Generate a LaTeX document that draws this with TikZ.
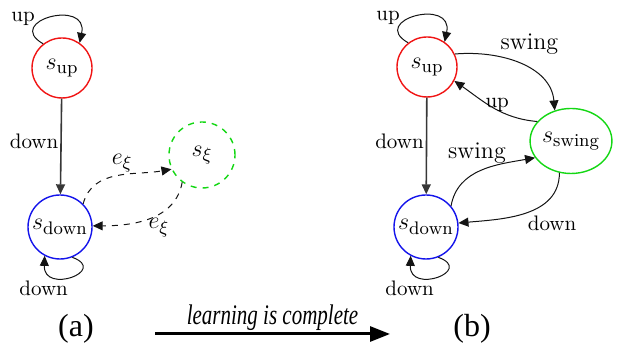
\documentclass[tikz,border=0pt]{standalone}
\usepackage{fontspec}
\usepackage{graphicx}
\newfontfamily\capfont{LiberationSerif}[Extension=.ttf, UprightFont=*-Regular,
  ItalicFont=*-Italic, BoldFont=*-Bold]
\usetikzlibrary{arrows.meta, positioning, shapes.geometric}
\definecolor{upcol}{RGB}{240, 20, 20}
\definecolor{downcol}{RGB}{20, 20, 235}
\definecolor{swingcol}{RGB}{20, 215, 20}
\definecolor{linecol}{RGB}{20, 20, 20}
\tikzset{
  state/.style     = {circle, line width=0.7pt, inner sep=0pt,
                      minimum size=30pt, font=\fontsize{13}{15}\selectfont},
  upstate/.style   = {state, draw=upcol},
  downstate/.style = {state, draw=downcol, minimum size=32pt},
  swingstate/.style = {state, ellipse, draw=swingcol, minimum width=40.5pt,
                      minimum height=32.5pt},
  % the state that is not known yet
  ghost/.style     = {state, draw=swingcol, dashed, minimum size=33pt},
  trans/.style     = {-{Triangle[length=5pt, width=4.5pt]}, draw=linecol,
                      line width=0.5pt},
  guess/.style     = {trans, dashed},
  fall/.style      = {trans, draw=linecol!85, line width=0.8pt},
  lbl/.style       = {font=\fontsize{10.5}{12}\selectfont, inner sep=1pt},
  swinglbl/.style  = {lbl, font=\fontsize{12}{14}\selectfont},
  elbl/.style      = {lbl, font=\fontsize{13}{15}\selectfont},
  panel/.style     = {font=\fontsize{16}{18}\capfont, inner sep=0pt},
  stage/.style     = {-{Triangle[length=10pt, width=7.5pt]}, draw=black,
                      line width=1.5pt},
}

\begin{document}
\begin{tikzpicture}[x=0.5pt, y=0.5pt]
  \useasboundingbox (0,0) rectangle (619,356);

  %% ---------------- (a) while learning ----------------
  \node[upstate]   (supA)   at (62, 288)  {$s_{\mathrm{up}}$};
  \node[downstate] (sdownA) at (60, 129)  {$s_{\mathrm{down}}$};
  \node[ghost]     (sxi)    at (202, 201) {$s_{\xi}$};

  \draw[trans] (supA.128) to[out=150, in=78, looseness=3.2]
       node[lbl, pos=0.3, left, inner sep=0pt, yshift=3pt] {up} (supA.55);
  \draw[fall] (supA) -- node[lbl, left, pos=0.45] {down} (sdownA);
  \draw[trans] (sdownA.-68) to[out=-20, in=-92, looseness=3.6]
       node[lbl, pos=0.5, below, xshift=-14pt, yshift=-1pt] {down}
       (sdownA.-118);

  \draw[guess] (sdownA.45) to[out=75, in=190]
       node[elbl, pos=0.55, above] {$e_{\xi}$} (sxi.205);
  \draw[guess] (sxi.234) to[out=-100, in=0]
       node[elbl, pos=0.4, below=1pt] {$e_{\xi}$} (sdownA.2);

  %% ---------------- (b) after learning ----------------
  \node[upstate]    (supB)   at (427, 289) {$s_{\mathrm{up}}$};
  \node[downstate]  (sdownB) at (426, 129) {$s_{\mathrm{down}}$};
  \node[swingstate] (sswing) at (571, 215) {$s_{\mathrm{swing}}$};

  \draw[trans] (supB.128) to[out=150, in=78, looseness=3.2]
       node[lbl, pos=0.3, left, inner sep=0pt, yshift=3pt] {up} (supB.55);
  \draw[fall] (supB) -- node[lbl, left, pos=0.45] {down} (sdownB);
  \draw[trans] (sdownB.-68) to[out=-20, in=-92, looseness=3.6]
       node[lbl, pos=0.5, below, xshift=-14pt, yshift=-1pt] {down}
       (sdownB.-118);

  \draw[trans] (supB.25) to[out=5, in=95]
       node[swinglbl, pos=0.32, above right] {swing} (sswing.118);
  \draw[trans] (sswing.150) to[out=175, in=-35]
       node[lbl, pos=0.45, above, inner sep=0pt, yshift=-1pt] {up}
       (supB.-27);
  \draw[trans] (sdownB.40) to[out=80, in=190]
       node[swinglbl, pos=0.45, above=3pt] {swing} (sswing.205);
  \draw[trans] (sswing.-110) to[out=-90, in=5]
       node[lbl, pos=0.5, below right] {down} (sdownB.7);

  %% ---------------- captions ----------------
  \node[panel] (capA) at (76, 27)  {(a)};
  \node[panel] (capB) at (472, 27) {(b)};
  \coordinate (from) at (155, 22);
  \coordinate (to)   at (390, 22);
  \draw[stage] (from) -- node[above=0pt, inner sep=1pt,
       font=\fontsize{10.5}{12}\capfont\itshape]
       {\scalebox{1}[1.35]{learning is complete}} (to);

\end{tikzpicture}
\end{document}
